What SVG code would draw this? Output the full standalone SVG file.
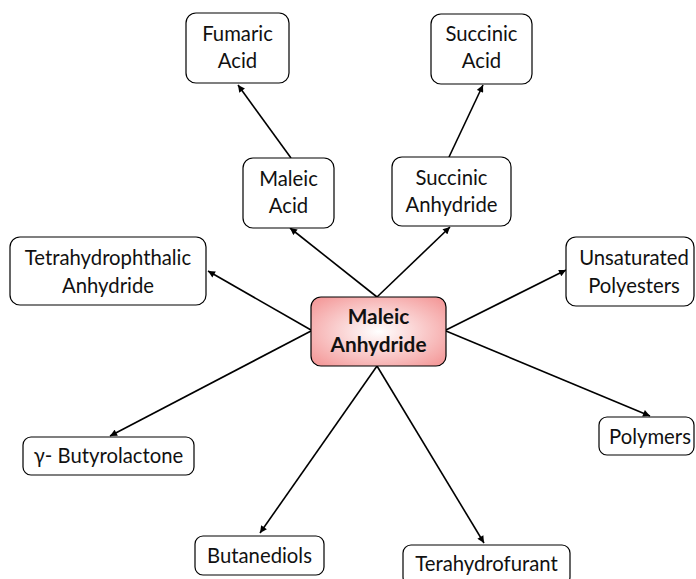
<svg xmlns="http://www.w3.org/2000/svg" width="696" height="579" viewBox="0 0 696 579">
  <defs>
    <radialGradient id="hubFill" cx="50%" cy="50%" r="65%">
      <stop offset="0" stop-color="#ffffff"/>
      <stop offset="1" stop-color="#f49a9a"/>
    </radialGradient>
    <marker id="arrow" viewBox="0 0 10 10" refX="10" refY="5" markerWidth="8" markerHeight="7" markerUnits="userSpaceOnUse" orient="auto">
      <path d="M0,0 L10,5 L0,10 z" fill="#000"/>
    </marker>
  </defs>
  <style>
    .box { fill: #ffffff; stroke: #000; stroke-width: 1.2; }
    .hub { fill: url(#hubFill); stroke: #000; stroke-width: 1.2; }
    .lbl { font-family: Lato, "Liberation Sans", sans-serif; font-size: 20.3px; fill: #111; text-anchor: middle; }
    .hubLbl { font-family: Lato, "Liberation Sans", sans-serif; font-size: 20.8px; font-weight: bold; fill: #111; text-anchor: middle; }
    .edge { stroke: #000; stroke-width: 1.6; fill: none; marker-end: url(#arrow); }
  </style>
  <rect width="696" height="579" fill="#ffffff"/>

  <!-- connectors -->
  <g id="connectors">
    <line class="edge" x1="377" y1="297" x2="290" y2="228"/>
    <line class="edge" x1="377" y1="297" x2="450" y2="227"/>
    <line class="edge" x1="291" y1="158" x2="238" y2="85"/>
    <line class="edge" x1="449" y1="157" x2="483" y2="85"/>
    <line class="edge" x1="311" y1="330" x2="208" y2="271"/>
    <line class="edge" x1="446" y1="330" x2="566" y2="270"/>
    <line class="edge" x1="311" y1="331" x2="110" y2="436"/>
    <line class="edge" x1="446" y1="331" x2="650" y2="416"/>
    <line class="edge" x1="377" y1="366" x2="260" y2="533"/>
    <line class="edge" x1="377" y1="366" x2="484" y2="543"/>
  </g>

  <!-- hub -->
  <g id="maleic-anhydride">
    <rect class="hub" x="311" y="297" width="135" height="69" rx="10"/>
    <text class="hubLbl" x="378.5" y="324">Maleic</text>
    <text class="hubLbl" x="378.5" y="352">Anhydride</text>
  </g>

  <g id="fumaric-acid">
    <rect class="box" x="186" y="13" width="103" height="70" rx="10"/>
    <text class="lbl" x="237.5" y="41">Fumaric</text>
    <text class="lbl" x="237.5" y="68">Acid</text>
  </g>

  <g id="succinic-acid">
    <rect class="box" x="431" y="14" width="101" height="70" rx="10"/>
    <text class="lbl" x="481.5" y="41">Succinic</text>
    <text class="lbl" x="481.5" y="68">Acid</text>
  </g>

  <g id="maleic-acid">
    <rect class="box" x="243" y="158" width="91" height="70" rx="10"/>
    <text class="lbl" x="288.5" y="186">Maleic</text>
    <text class="lbl" x="288.5" y="213">Acid</text>
  </g>

  <g id="succinic-anhydride">
    <rect class="box" x="392" y="157" width="119" height="69" rx="10"/>
    <text class="lbl" x="451.5" y="185">Succinic</text>
    <text class="lbl" x="451.5" y="212">Anhydride</text>
  </g>

  <g id="tetrahydrophthalic-anhydride">
    <rect class="box" x="10" y="237" width="196" height="68" rx="10"/>
    <text class="lbl" x="108" y="265">Tetrahydrophthalic</text>
    <text class="lbl" x="108" y="293">Anhydride</text>
  </g>

  <g id="unsaturated-polyesters">
    <rect class="box" x="566" y="237" width="128" height="69" rx="10"/>
    <text class="lbl" x="634" y="265">Unsaturated</text>
    <text class="lbl" x="634" y="293">Polyesters</text>
  </g>

  <g id="butyrolactone">
    <rect class="box" x="23" y="437" width="171" height="38" rx="8"/>
    <text class="lbl" x="108.5" y="463">γ- Butyrolactone</text>
  </g>

  <g id="polymers">
    <rect class="box" x="599" y="417" width="95" height="38" rx="8"/>
    <text class="lbl" x="650" y="444">Polymers</text>
  </g>

  <g id="butanediols">
    <rect class="box" x="195" y="536" width="129" height="39" rx="8"/>
    <text class="lbl" x="259.5" y="563">Butanediols</text>
  </g>

  <g id="terahydrofurant">
    <rect class="box" x="403" y="545" width="167" height="40" rx="8"/>
    <text class="lbl" x="486.5" y="571">Terahydrofurant</text>
  </g>
</svg>
